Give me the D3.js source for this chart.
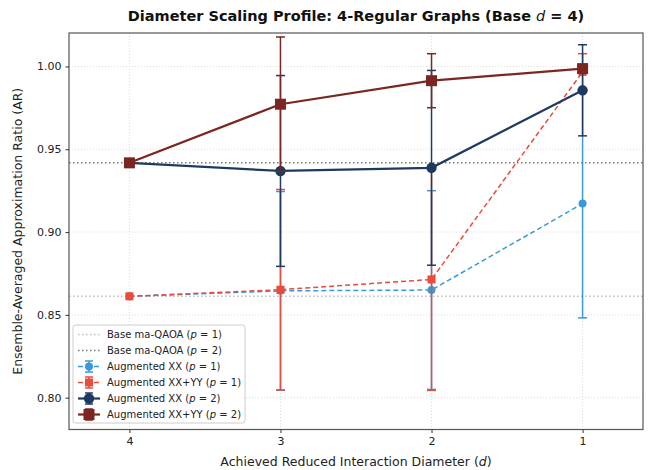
<!DOCTYPE html>
<html>
<head>
<meta charset="utf-8">
<script src="https://cdn.jsdelivr.net/npm/d3@7"></script>
<style>
  html, body { margin: 0; padding: 0; background: #fff; }
  svg { display: block; font-family: "DejaVu Sans", sans-serif; }
</style>
</head>
<body>
<svg id="chart" width="649" height="470"></svg>
<script>
// Reduced interaction diameter (x axis runs from 4 down to 1)
const diameters = [4, 3, 2, 1];
const xTicks = [4, 3, 2, 1];
const yTicks = [0.80, 0.85, 0.90, 0.95, 1.00];

// Baseline ma-QAOA approximation ratios
const baseP1 = 0.8612;
const baseP2 = 0.9418;

// Ensemble means and standard deviations per diameter
const xxP1Mean = [0.8612, 0.8645, 0.8650, 0.9172];
const xxP1Err  = [0, 0.060, 0.060, 0.069];
const xxyyP1Mean = [0.8612, 0.8652, 0.8714, 0.9967];
const xxyyP1Err  = [0, 0.0605, 0.067, 0.011];
const xxP2Mean = [0.9418, 0.9369, 0.9388, 0.9856];
const xxP2Err  = [0, 0.0576, 0.0588, 0.0275];
const xxyyP2Mean = [0.9418, 0.9772, 0.9914, 0.9987];
const xxyyP2Err  = [0, 0.0406, 0.0163, 0.002];

const series = [
  { name: "Augmented XX", p: 1, mean: xxP1Mean, err: xxP1Err, color: "#3a9ad9", marker: "circle", size: 4, width: 1.5, dash: "5,3" },
  { name: "Augmented XX+YY", p: 1, mean: xxyyP1Mean, err: xxyyP1Err, color: "#e74c3c", marker: "square", size: 4, width: 1.5, dash: "5,3" },
  { name: "Augmented XX", p: 2, mean: xxP2Mean, err: xxP2Err, color: "#1f3a60", marker: "circle", size: 5.2, width: 2.2, dash: null },
  { name: "Augmented XX+YY", p: 2, mean: xxyyP2Mean, err: xxyyP2Err, color: "#7b2620", marker: "square", size: 5.5, width: 2.2, dash: null }
];

const svg = d3.select("#chart");
const m = { left: 69, top: 33, right: 643, bottom: 429.5 };

const x = d3.scaleLinear().domain([4.4, 0.6]).range([m.left, m.right]);
const y = d3.scaleLinear().domain([0.7808, 1.0202]).range([m.bottom, m.top]);

// Grid
const grid = svg.append("g");
grid.selectAll("line.gx").data(xTicks).enter().append("line")
  .attr("x1", d => x(d)).attr("x2", d => x(d))
  .attr("y1", m.top).attr("y2", m.bottom)
  .attr("stroke", "#d0d0d0").attr("stroke-width", 0.8).attr("stroke-dasharray", "1,2");
grid.selectAll("line.gy").data(yTicks).enter().append("line")
  .attr("x1", m.left).attr("x2", m.right)
  .attr("y1", d => y(d)).attr("y2", d => y(d))
  .attr("stroke", "#d0d0d0").attr("stroke-width", 0.8).attr("stroke-dasharray", "1,2");

// Baselines
svg.append("line").attr("x1", m.left).attr("x2", m.right)
  .attr("y1", y(baseP1)).attr("y2", y(baseP1))
  .attr("stroke", "#bdbdbd").attr("stroke-width", 1.5).attr("stroke-dasharray", "1.5,2.5");
svg.append("line").attr("x1", m.left).attr("x2", m.right)
  .attr("y1", y(baseP2)).attr("y2", y(baseP2))
  .attr("stroke", "#777").attr("stroke-width", 1.5).attr("stroke-dasharray", "1.5,2.5");

function drawMarker(g, cx, cy, s) {
  if (s.marker === "circle") {
    g.append("circle").attr("cx", cx).attr("cy", cy).attr("r", s.size).attr("fill", s.color);
  } else {
    g.append("rect").attr("x", cx - s.size).attr("y", cy - s.size)
      .attr("width", s.size * 2).attr("height", s.size * 2).attr("fill", s.color);
  }
}

const line = d3.line().x(d => x(d[0])).y(d => y(d[1]));

series.forEach(s => {
  const g = svg.append("g");
  const pts = diameters.map((d, i) => [d, s.mean[i], s.err[i]]);
  // error bars
  pts.forEach(p => {
    if (p[2] <= 0) return;
    const cx = x(p[0]);
    const y0 = y(p[1] - p[2]), y1 = y(p[1] + p[2]);
    g.append("line").attr("x1", cx).attr("x2", cx).attr("y1", y0).attr("y2", y1)
      .attr("stroke", s.color).attr("stroke-width", 1.5);
    [y0, y1].forEach(yy => g.append("line").attr("x1", cx - 4.5).attr("x2", cx + 4.5)
      .attr("y1", yy).attr("y2", yy).attr("stroke", s.color).attr("stroke-width", 1.5));
  });
  g.append("path").datum(pts).attr("d", line).attr("fill", "none")
    .attr("stroke", s.color).attr("stroke-width", s.width)
    .attr("stroke-dasharray", s.dash);
  pts.forEach(p => drawMarker(g, x(p[0]), y(p[1]), s));
});

// Frame
svg.append("rect").attr("x", m.left).attr("y", m.top)
  .attr("width", m.right - m.left).attr("height", m.bottom - m.top)
  .attr("fill", "none").attr("stroke", "#555").attr("stroke-width", 1.2);

// Axes
const xAxis = svg.append("g").attr("transform", `translate(0,${m.bottom})`)
  .call(d3.axisBottom(x).tickValues(xTicks).tickFormat(d3.format("d")).tickSize(3.5).tickPadding(4));
const yAxis = svg.append("g").attr("transform", `translate(${m.left},0)`)
  .call(d3.axisLeft(y).tickValues(yTicks).tickFormat(d3.format(".2f")).tickSize(3.5).tickPadding(4));
[xAxis, yAxis].forEach(a => {
  a.select(".domain").remove();
  a.selectAll("text").attr("font-size", 11).attr("fill", "#222").attr("font-family", "DejaVu Sans");
  a.selectAll("line").attr("stroke", "#333");
});

// Title
const title = svg.append("text").attr("x", 356).attr("y", 21).attr("text-anchor", "middle")
  .attr("font-size", 14.5).attr("font-weight", "bold").attr("fill", "#111");
title.append("tspan").text("Diameter Scaling Profile: 4-Regular Graphs (Base ");
title.append("tspan").attr("font-style", "italic").attr("font-weight", "normal").text("d");
title.append("tspan").text(" = 4)");

// Axis labels
const xl = svg.append("text").attr("x", 356).attr("y", 466).attr("text-anchor", "middle")
  .attr("font-size", 12.5).attr("fill", "#222");
xl.append("tspan").text("Achieved Reduced Interaction Diameter (");
xl.append("tspan").attr("font-style", "italic").text("d");
xl.append("tspan").text(")");

svg.append("text").attr("transform", `translate(22,${(m.top + m.bottom) / 2}) rotate(-90)`)
  .attr("text-anchor", "middle").attr("font-size", 12.5).attr("fill", "#222")
  .text("Ensemble-Averaged Approximation Ratio (AR)");

// Legend
const lg = svg.append("g").attr("transform", "translate(73,325)");
lg.append("rect").attr("width", 172).attr("height", 98).attr("rx", 2.5)
  .attr("fill", "rgba(255,255,255,0.85)").attr("stroke", "#ccc").attr("stroke-width", 1);

const legendItems = [
  { label: "Base ma-QAOA", p: 1, base: "#bdbdbd" },
  { label: "Base ma-QAOA", p: 2, base: "#777" },
  ...series.map(s => ({ label: s.name, p: s.p, s }))
];
legendItems.forEach((it, i) => {
  const yy = 9.5 + i * 16;
  const row = lg.append("g").attr("transform", `translate(0,${yy})`);
  if (it.base) {
    row.append("line").attr("x1", 5).attr("x2", 27).attr("y1", 0).attr("y2", 0)
      .attr("stroke", it.base).attr("stroke-width", 1.5).attr("stroke-dasharray", "1.5,2.5");
  } else {
    const s = it.s;
    row.append("line").attr("x1", 5).attr("x2", 27).attr("y1", 0).attr("y2", 0)
      .attr("stroke", s.color).attr("stroke-width", s.width).attr("stroke-dasharray", s.dash);
    row.append("line").attr("x1", 16).attr("x2", 16).attr("y1", -5.5).attr("y2", 5.5)
      .attr("stroke", s.color).attr("stroke-width", 1.5);
    [-5.5, 5.5].forEach(v => row.append("line").attr("x1", 12).attr("x2", 20).attr("y1", v).attr("y2", v)
      .attr("stroke", s.color).attr("stroke-width", 1.5));
    drawMarker(row, 16, 0, s);
  }
  const t = row.append("text").attr("x", 34).attr("y", 3.5).attr("font-size", 10).attr("fill", "#222");
  t.append("tspan").text(it.label + " (");
  t.append("tspan").attr("font-style", "italic").text("p");
  t.append("tspan").text(" = " + it.p + ")");
});
</script>
</body>
</html>
